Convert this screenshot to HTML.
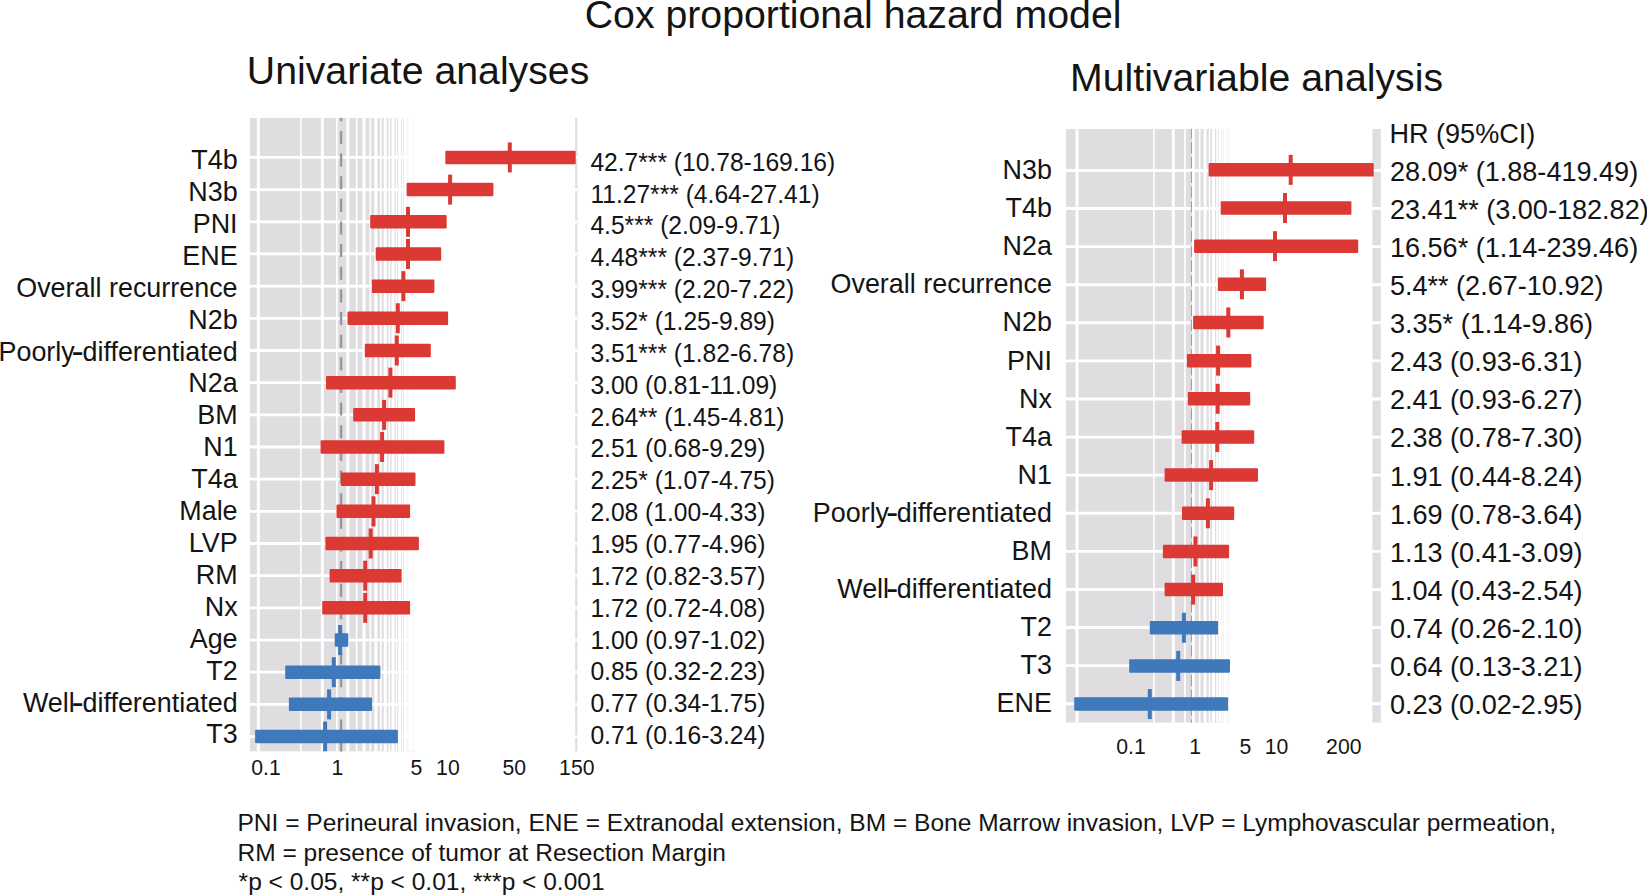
<!DOCTYPE html>
<html lang="en"><head><meta charset="utf-8"><title>Cox proportional hazard model</title>
<style>
html,body{margin:0;padding:0;background:#fff;}
body{width:1647px;height:895px;overflow:hidden;}
svg{display:block}
text{font-family:'Liberation Sans', Arial, Helvetica, sans-serif;fill:#141414;}
.t{font-size:39.25px}
.l{font-size:26.93px;text-anchor:end}
.hy{font-weight:bold;font-size:23.5px}
.h1{font-size:24.61px}
.h2{font-size:27.08px}
.ax{font-size:21.2px;text-anchor:middle}
.fn{font-size:24.53px}
</style></head><body>
<svg width="1647" height="895" viewBox="0 0 1647 895">
<rect width="1647" height="895" fill="#fff"/>

<clipPath id="cL"><rect x="250" y="117.8" width="327.6" height="633.8"/></clipPath>
<g clip-path="url(#cL)">
<rect x="250" y="117.8" width="165.6" height="633.8" fill="#dfdde0"/>
<rect x="575.2" y="117.8" width="2.4" height="633.8" fill="#dfdde0"/>
<path d="M300.87 117.8V751.6M336.86 117.8V751.6M356.63 117.8V751.6M370.32 117.8V751.6M380.82 117.8V751.6M389.33 117.8V751.6M396.48 117.8V751.6M402.66 117.8V751.6M408.09 117.8V751.6M412.94 117.8V751.6M417.32 117.8V751.6" stroke="#fff" stroke-width="1.6" fill="none"/>
<path d="M258.37 117.8V751.6M322.36 117.8V751.6M347.82 117.8V751.6M363.99 117.8V751.6M375.88 117.8V751.6M385.27 117.8V751.6M393.05 117.8V751.6M399.68 117.8V751.6M405.46 117.8V751.6M410.58 117.8V751.6M415.18 117.8V751.6" stroke="#fff" stroke-width="3" fill="none"/>
<path d="M250 157.45H577.6M250 189.62H577.6M250 221.79H577.6M250 253.97H577.6M250 286.14H577.6M250 318.31H577.6M250 350.48H577.6M250 382.65H577.6M250 414.83H577.6M250 447.00H577.6M250 479.17H577.6M250 511.34H577.6M250 543.51H577.6M250 575.69H577.6M250 607.86H577.6M250 640.03H577.6M250 672.20H577.6M250 704.37H577.6M250 736.55H577.6" stroke="#fff" stroke-width="2.8" fill="none"/>
<path d="M341.1 108.26V752" stroke="#98969a" stroke-width="2.4" stroke-dasharray="13 9.64" fill="none"/>
</g>
<g clip-path="url(#cL)">
<rect x="445.3" y="150.70" width="130.4" height="13.5" rx="1" fill="#dc3834"/>
<rect x="507.8" y="142.45" width="4" height="30" fill="#dc3834"/>
<rect x="406.6" y="182.87" width="86.8" height="13.5" rx="1" fill="#dc3834"/>
<rect x="448.1" y="174.62" width="4" height="30" fill="#dc3834"/>
<rect x="370.2" y="215.04" width="76.5" height="13.5" rx="1" fill="#dc3834"/>
<rect x="406.0" y="206.79" width="4" height="30" fill="#dc3834"/>
<rect x="375.7" y="247.22" width="65.5" height="13.5" rx="1" fill="#dc3834"/>
<rect x="406.0" y="238.97" width="4" height="30" fill="#dc3834"/>
<rect x="371.9" y="279.39" width="62.5" height="13.5" rx="1" fill="#dc3834"/>
<rect x="401.4" y="271.14" width="4" height="30" fill="#dc3834"/>
<rect x="347.5" y="311.56" width="100.6" height="13.5" rx="1" fill="#dc3834"/>
<rect x="395.8" y="303.31" width="4" height="30" fill="#dc3834"/>
<rect x="364.8" y="343.73" width="66.0" height="13.5" rx="1" fill="#dc3834"/>
<rect x="394.8" y="335.48" width="4" height="30" fill="#dc3834"/>
<rect x="326" y="375.90" width="129.8" height="13.5" rx="1" fill="#dc3834"/>
<rect x="388.4" y="367.65" width="4" height="30" fill="#dc3834"/>
<rect x="353.2" y="408.08" width="61.9" height="13.5" rx="1" fill="#dc3834"/>
<rect x="382.1" y="399.83" width="4" height="30" fill="#dc3834"/>
<rect x="320.6" y="440.25" width="123.8" height="13.5" rx="1" fill="#dc3834"/>
<rect x="380.1" y="432.00" width="4" height="30" fill="#dc3834"/>
<rect x="340.9" y="472.42" width="74.6" height="13.5" rx="1" fill="#dc3834"/>
<rect x="374.9" y="464.17" width="4" height="30" fill="#dc3834"/>
<rect x="336.5" y="504.59" width="73.6" height="13.5" rx="1" fill="#dc3834"/>
<rect x="371.5" y="496.34" width="4" height="30" fill="#dc3834"/>
<rect x="325.4" y="536.76" width="93.5" height="13.5" rx="1" fill="#dc3834"/>
<rect x="368.7" y="528.51" width="4" height="30" fill="#dc3834"/>
<rect x="329.6" y="568.94" width="72.0" height="13.5" rx="1" fill="#dc3834"/>
<rect x="363.2" y="560.69" width="4" height="30" fill="#dc3834"/>
<rect x="322.2" y="601.11" width="87.9" height="13.5" rx="1" fill="#dc3834"/>
<rect x="363.2" y="592.86" width="4" height="30" fill="#dc3834"/>
<rect x="334.7" y="633.28" width="13.6" height="13.5" rx="1" fill="#3f78bb"/>
<rect x="338.1" y="625.03" width="4" height="30" fill="#3f78bb"/>
<rect x="285.2" y="665.45" width="95.2" height="13.5" rx="1" fill="#3f78bb"/>
<rect x="331.8" y="657.20" width="4" height="30" fill="#3f78bb"/>
<rect x="288.9" y="697.62" width="83.2" height="13.5" rx="1" fill="#3f78bb"/>
<rect x="327.1" y="689.37" width="4" height="30" fill="#3f78bb"/>
<rect x="255.1" y="729.80" width="142.8" height="13.5" rx="1" fill="#3f78bb"/>
<rect x="323.1" y="721.55" width="4" height="30" fill="#3f78bb"/>
</g>
<text class="l" transform="translate(237.6 169.10) scale(1 1.035)">T4b</text>
<text class="h1" transform="translate(590.4 170.70) scale(1 1.05)">42.7*** (10.78-169.16)</text>
<text class="l" transform="translate(237.6 201.01) scale(1 1.035)">N3b</text>
<text class="h1" transform="translate(590.4 202.56) scale(1 1.05)">11.27*** (4.64-27.41)</text>
<text class="l" transform="translate(237.6 232.92) scale(1 1.035)">PNI</text>
<text class="h1" transform="translate(590.4 234.42) scale(1 1.05)">4.5*** (2.09-9.71)</text>
<text class="l" transform="translate(237.6 264.83) scale(1 1.035)">ENE</text>
<text class="h1" transform="translate(590.4 266.28) scale(1 1.05)">4.48*** (2.37-9.71)</text>
<text class="l" transform="translate(237.6 296.74) scale(1 1.035)">Overall recurrence</text>
<text class="h1" transform="translate(590.4 298.14) scale(1 1.05)">3.99*** (2.20-7.22)</text>
<text class="l" transform="translate(237.6 328.65) scale(1 1.035)">N2b</text>
<text class="h1" transform="translate(590.4 330.00) scale(1 1.05)">3.52* (1.25-9.89)</text>
<text class="l" transform="translate(237.6 360.56) scale(1 1.035)">Poorly<tspan class="hy" dx="-2.9" dy="-0.3" textLength="11.8" lengthAdjust="spacingAndGlyphs">-</tspan><tspan dx="-1.2" dy="0.3">differentiated</tspan></text>
<text class="h1" transform="translate(590.4 361.86) scale(1 1.05)">3.51*** (1.82-6.78)</text>
<text class="l" transform="translate(237.6 392.47) scale(1 1.035)">N2a</text>
<text class="h1" transform="translate(590.4 393.72) scale(1 1.05)">3.00 (0.81-11.09)</text>
<text class="l" transform="translate(237.6 424.38) scale(1 1.035)">BM</text>
<text class="h1" transform="translate(590.4 425.58) scale(1 1.05)">2.64** (1.45-4.81)</text>
<text class="l" transform="translate(237.6 456.29) scale(1 1.035)">N1</text>
<text class="h1" transform="translate(590.4 457.44) scale(1 1.05)">2.51 (0.68-9.29)</text>
<text class="l" transform="translate(237.6 488.20) scale(1 1.035)">T4a</text>
<text class="h1" transform="translate(590.4 489.30) scale(1 1.05)">2.25* (1.07-4.75)</text>
<text class="l" transform="translate(237.6 520.11) scale(1 1.035)">Male</text>
<text class="h1" transform="translate(590.4 521.16) scale(1 1.05)">2.08 (1.00-4.33)</text>
<text class="l" transform="translate(237.6 552.02) scale(1 1.035)">LVP</text>
<text class="h1" transform="translate(590.4 553.02) scale(1 1.05)">1.95 (0.77-4.96)</text>
<text class="l" transform="translate(237.6 583.93) scale(1 1.035)">RM</text>
<text class="h1" transform="translate(590.4 584.88) scale(1 1.05)">1.72 (0.82-3.57)</text>
<text class="l" transform="translate(237.6 615.84) scale(1 1.035)">Nx</text>
<text class="h1" transform="translate(590.4 616.74) scale(1 1.05)">1.72 (0.72-4.08)</text>
<text class="l" transform="translate(237.6 647.75) scale(1 1.035)">Age</text>
<text class="h1" transform="translate(590.4 648.60) scale(1 1.05)">1.00 (0.97-1.02)</text>
<text class="l" transform="translate(237.6 679.66) scale(1 1.035)">T2</text>
<text class="h1" transform="translate(590.4 680.46) scale(1 1.05)">0.85 (0.32-2.23)</text>
<text class="l" transform="translate(237.6 711.57) scale(1 1.035)">Well<tspan class="hy" dx="-2.9" dy="-0.3" textLength="11.8" lengthAdjust="spacingAndGlyphs">-</tspan><tspan dx="-1.2" dy="0.3">differentiated</tspan></text>
<text class="h1" transform="translate(590.4 712.32) scale(1 1.05)">0.77 (0.34-1.75)</text>
<text class="l" transform="translate(237.6 743.48) scale(1 1.035)">T3</text>
<text class="h1" transform="translate(590.4 744.18) scale(1 1.05)">0.71 (0.16-3.24)</text>
<text class="ax" transform="translate(266 775.3) scale(1 1.05)">0.1</text>
<text class="ax" transform="translate(337.5 775.3) scale(1 1.05)">1</text>
<text class="ax" transform="translate(416.5 775.3) scale(1 1.05)">5</text>
<text class="ax" transform="translate(447.9 775.3) scale(1 1.05)">10</text>
<text class="ax" transform="translate(514.2 775.3) scale(1 1.05)">50</text>
<text class="ax" transform="translate(576.8 775.3) scale(1 1.05)">150</text>
<clipPath id="cR"><rect x="1065.8" y="128.7" width="315.1" height="594.0"/></clipPath>
<g clip-path="url(#cR)">
<rect x="1065.8" y="128.7" width="163.2" height="594.0" fill="#dfdde0"/>
<rect x="1372.4" y="128.7" width="8.5" height="594.0" fill="#dfdde0"/>
<path d="M1153.89 128.7V722.7M1184.93 128.7V722.7M1199.75 128.7V722.7M1209.59 128.7V722.7M1216.96 128.7V722.7M1222.86 128.7V722.7M1227.77 128.7V722.7" stroke="#fff" stroke-width="1.6" fill="none"/>
<path d="M1077.00 128.7V722.7M1173.30 128.7V722.7M1193.26 128.7V722.7M1205.08 128.7V722.7M1213.50 128.7V722.7M1220.05 128.7V722.7M1225.42 128.7V722.7" stroke="#fff" stroke-width="3" fill="none"/>
<path d="M1065.8 170.45H1380.9M1065.8 208.54H1380.9M1065.8 246.63H1380.9M1065.8 284.72H1380.9M1065.8 322.81H1380.9M1065.8 360.90H1380.9M1065.8 398.99H1380.9M1065.8 437.08H1380.9M1065.8 475.17H1380.9M1065.8 513.26H1380.9M1065.8 551.35H1380.9M1065.8 589.44H1380.9M1065.8 627.53H1380.9M1065.8 665.62H1380.9M1065.8 703.71H1380.9" stroke="#fff" stroke-width="2.9" fill="none"/>
<path d="M1191.4 127.3V723" stroke="#9b999d" stroke-width="1" stroke-dasharray="11.3 3.5" fill="none"/>
</g>
<g clip-path="url(#cR)">
<rect x="1208.6" y="163.09" width="165.1" height="13.5" rx="1" fill="#dc3834"/>
<rect x="1288.7" y="154.84" width="4" height="30" fill="#dc3834"/>
<rect x="1220.7" y="201.25" width="130.7" height="13.5" rx="1" fill="#dc3834"/>
<rect x="1283.0" y="193.00" width="4" height="30" fill="#dc3834"/>
<rect x="1194.1" y="239.41" width="164.1" height="13.5" rx="1" fill="#dc3834"/>
<rect x="1273.0" y="231.16" width="4" height="30" fill="#dc3834"/>
<rect x="1217.9" y="277.57" width="48.2" height="13.5" rx="1" fill="#dc3834"/>
<rect x="1239.9" y="269.32" width="4" height="30" fill="#dc3834"/>
<rect x="1193.1" y="315.73" width="70.6" height="13.5" rx="1" fill="#dc3834"/>
<rect x="1226.3" y="307.48" width="4" height="30" fill="#dc3834"/>
<rect x="1186.9" y="353.88" width="64.5" height="13.5" rx="1" fill="#dc3834"/>
<rect x="1216.1" y="345.63" width="4" height="30" fill="#dc3834"/>
<rect x="1187.8" y="392.04" width="62.4" height="13.5" rx="1" fill="#dc3834"/>
<rect x="1215.7" y="383.79" width="4" height="30" fill="#dc3834"/>
<rect x="1181.6" y="430.20" width="72.6" height="13.5" rx="1" fill="#dc3834"/>
<rect x="1215.3" y="421.95" width="4" height="30" fill="#dc3834"/>
<rect x="1164.6" y="468.36" width="93.4" height="13.5" rx="1" fill="#dc3834"/>
<rect x="1209.1" y="460.11" width="4" height="30" fill="#dc3834"/>
<rect x="1182" y="506.52" width="52.2" height="13.5" rx="1" fill="#dc3834"/>
<rect x="1205.9" y="498.27" width="4" height="30" fill="#dc3834"/>
<rect x="1162.9" y="544.68" width="66.2" height="13.5" rx="1" fill="#dc3834"/>
<rect x="1193.4" y="536.43" width="4" height="30" fill="#dc3834"/>
<rect x="1164.6" y="582.84" width="58.4" height="13.5" rx="1" fill="#dc3834"/>
<rect x="1191.1" y="574.59" width="4" height="30" fill="#dc3834"/>
<rect x="1149.8" y="621.00" width="68.3" height="13.5" rx="1" fill="#3f78bb"/>
<rect x="1181.9" y="612.75" width="4" height="30" fill="#3f78bb"/>
<rect x="1129.2" y="659.16" width="100.8" height="13.5" rx="1" fill="#3f78bb"/>
<rect x="1176.2" y="650.91" width="4" height="30" fill="#3f78bb"/>
<rect x="1074.2" y="697.32" width="153.9" height="13.5" rx="1" fill="#3f78bb"/>
<rect x="1147.8" y="689.07" width="4" height="30" fill="#3f78bb"/>
</g>
<text class="l" transform="translate(1051.9 179.40) scale(1 1.035)">N3b</text>
<text class="h2" transform="translate(1389.9 181.10) scale(1 1.05)">28.09* (1.88-419.49)</text>
<text class="l" transform="translate(1051.9 217.42) scale(1 1.035)">T4b</text>
<text class="h2" transform="translate(1389.9 219.15) scale(1 1.05)">23.41** (3.00-182.82)</text>
<text class="l" transform="translate(1051.9 255.44) scale(1 1.035)">N2a</text>
<text class="h2" transform="translate(1389.9 257.20) scale(1 1.05)">16.56* (1.14-239.46)</text>
<text class="l" transform="translate(1051.9 293.46) scale(1 1.035)">Overall recurrence</text>
<text class="h2" transform="translate(1389.9 295.25) scale(1 1.05)">5.4** (2.67-10.92)</text>
<text class="l" transform="translate(1051.9 331.48) scale(1 1.035)">N2b</text>
<text class="h2" transform="translate(1389.9 333.30) scale(1 1.05)">3.35* (1.14-9.86)</text>
<text class="l" transform="translate(1051.9 369.50) scale(1 1.035)">PNI</text>
<text class="h2" transform="translate(1389.9 371.35) scale(1 1.05)">2.43 (0.93-6.31)</text>
<text class="l" transform="translate(1051.9 407.52) scale(1 1.035)">Nx</text>
<text class="h2" transform="translate(1389.9 409.40) scale(1 1.05)">2.41 (0.93-6.27)</text>
<text class="l" transform="translate(1051.9 445.54) scale(1 1.035)">T4a</text>
<text class="h2" transform="translate(1389.9 447.45) scale(1 1.05)">2.38 (0.78-7.30)</text>
<text class="l" transform="translate(1051.9 483.56) scale(1 1.035)">N1</text>
<text class="h2" transform="translate(1389.9 485.50) scale(1 1.05)">1.91 (0.44-8.24)</text>
<text class="l" transform="translate(1051.9 521.58) scale(1 1.035)">Poorly<tspan class="hy" dx="-2.9" dy="-0.3" textLength="11.8" lengthAdjust="spacingAndGlyphs">-</tspan><tspan dx="-1.2" dy="0.3">differentiated</tspan></text>
<text class="h2" transform="translate(1389.9 523.55) scale(1 1.05)">1.69 (0.78-3.64)</text>
<text class="l" transform="translate(1051.9 559.60) scale(1 1.035)">BM</text>
<text class="h2" transform="translate(1389.9 561.60) scale(1 1.05)">1.13 (0.41-3.09)</text>
<text class="l" transform="translate(1051.9 597.62) scale(1 1.035)">Well<tspan class="hy" dx="-2.9" dy="-0.3" textLength="11.8" lengthAdjust="spacingAndGlyphs">-</tspan><tspan dx="-1.2" dy="0.3">differentiated</tspan></text>
<text class="h2" transform="translate(1389.9 599.65) scale(1 1.05)">1.04 (0.43-2.54)</text>
<text class="l" transform="translate(1051.9 635.64) scale(1 1.035)">T2</text>
<text class="h2" transform="translate(1389.9 637.70) scale(1 1.05)">0.74 (0.26-2.10)</text>
<text class="l" transform="translate(1051.9 673.66) scale(1 1.035)">T3</text>
<text class="h2" transform="translate(1389.9 675.75) scale(1 1.05)">0.64 (0.13-3.21)</text>
<text class="l" transform="translate(1051.9 711.68) scale(1 1.035)">ENE</text>
<text class="h2" transform="translate(1389.9 713.80) scale(1 1.05)">0.23 (0.02-2.95)</text>
<text class="h2" transform="translate(1389.4 143.1) scale(1 1.05)">HR (95%CI)</text>
<text class="ax" transform="translate(1131 753.5) scale(1 1.05)">0.1</text>
<text class="ax" transform="translate(1195.2 753.5) scale(1 1.05)">1</text>
<text class="ax" transform="translate(1245.5 753.5) scale(1 1.05)">5</text>
<text class="ax" transform="translate(1276.5 753.5) scale(1 1.05)">10</text>
<text class="ax" transform="translate(1343.8 753.5) scale(1 1.05)">200</text>
<text class="t" x="853.1" y="28.4" text-anchor="middle">Cox proportional hazard model</text>
<text class="t" x="246.8" y="84.2">Univariate analyses</text>
<text class="t" x="1070" y="91">Multivariable analysis</text>
<text class="fn" x="237.5" y="831.1">PNI = Perineural invasion, ENE = Extranodal extension, BM = Bone Marrow invasion, LVP = Lymphovascular permeation,</text>
<text class="fn" x="237.5" y="860.9">RM = presence of tumor at Resection Margin</text>
<text class="fn" x="238.6" y="889.8">*p &lt; 0.05, **p &lt; 0.01, ***p &lt; 0.001</text>
</svg></body></html>
